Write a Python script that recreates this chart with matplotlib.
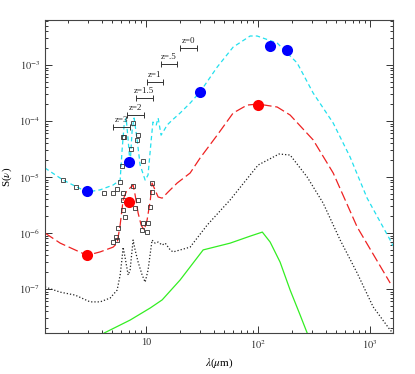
import math

import matplotlib
matplotlib.use('Agg')
import matplotlib.pyplot as plt
from matplotlib.ticker import FixedLocator, LogLocator, FuncFormatter, NullFormatter

plt.rcParams['font.family'] = ['Liberation Serif', 'DejaVu Serif']
plt.rcParams['mathtext.fontset'] = 'stix'

# Template curves: wavelength (micron) and flux S(nu)
cyan_lam = [1.25, 1.82, 2.32, 2.97, 3.88, 5.07, 5.86, 6.10, 6.36, 6.63, 6.91, 7.19, 7.50, 7.81,
            8.31, 8.84, 9.80, 10.4, 11.1, 11.5, 12.3, 12.8, 13.6, 14.5, 15.4, 17.1, 20.1, 24.7,
            30.3, 43.1, 59.8, 84.8, 98, 148, 223, 310, 468, 662, 940, 1510, 1600]
cyan_s = [1.45e-5, 8.8e-6, 6.9e-6, 5.4e-6, 5.9e-6, 7.2e-6, 8.8e-6, 3.03e-5, 8.5e-5, 1.13e-4,
          4.6e-5, 1.64e-5, 6.9e-5, 1.13e-4, 4.6e-5, 1.64e-5, 8.8e-6, 1.09e-5, 4.6e-5, 9.6e-5,
          8.5e-5, 1.13e-4, 5.6e-5, 6.9e-5, 8.5e-5, 1.04e-4, 1.39e-4, 2.09e-4, 3.30e-4, 9.2e-4,
          2.09e-3, 3.30e-3, 3.30e-3, 2.47e-3, 1.09e-3, 3.16e-4, 9.2e-5, 2.28e-5, 4.2e-6,
          7.5e-7, 5.9e-7]

red_lam = [1.25, 1.71, 2.32, 2.97, 3.88, 5.07, 5.51, 5.86, 6.23, 6.63, 7.19, 7.65, 7.97, 8.48,
           9.02, 9.60, 10.2, 10.9, 11.3, 12.0, 12.8, 13.9, 15.7, 18.9, 24.7, 30.3, 43.1, 59.8,
           79.8, 100, 148, 193, 310, 468, 766, 1510]
red_s = [1.0e-6, 6.6e-7, 5.0e-7, 4.0e-7, 4.6e-7, 5.6e-7, 6.6e-7, 1.39e-6, 3.9e-6, 5.4e-6,
         6.4e-6, 7.2e-6, 4.8e-6, 2.28e-6, 1.39e-6, 1.13e-6, 1.71e-6, 3.9e-6, 7.8e-6, 5.9e-6,
         4.4e-6, 4.2e-6, 5.4e-6, 7.8e-6, 1.18e-5, 2.18e-5, 5.6e-5, 1.39e-4, 1.93e-4, 2.01e-4,
         1.78e-4, 1.28e-4, 4.6e-5, 1.18e-5, 1.28e-6, 1.28e-7]

black_lam = [1.25, 1.71, 2.32, 3.16, 3.88, 4.77, 5.51, 5.86, 6.10, 6.23, 6.50, 6.91, 7.19, 7.65,
             7.97, 8.48, 9.21, 9.80, 10.4, 10.9, 11.3, 12.0, 12.8, 13.9, 14.8, 16.4, 17.4, 24.7,
             35.1, 56.2, 100, 154, 193, 274, 380, 540, 766, 1064, 1510, 1600]
black_s = [1.09e-7, 8.8e-8, 7.8e-8, 5.9e-8, 5.9e-8, 6.9e-8, 9.6e-8, 1.78e-7, 3.58e-7, 5.6e-7,
           3.58e-7, 1.78e-7, 2.18e-7, 7.5e-7, 5.0e-7, 3.03e-7, 1.78e-7, 1.33e-7, 2.18e-7, 4.4e-7,
           7.5e-7, 6.6e-7, 6.9e-7, 6.1e-7, 6.6e-7, 5.0e-7, 4.6e-7, 5.6e-7, 1.39e-6, 3.9e-6,
           1.64e-5, 2.58e-5, 2.47e-5, 1.0e-5, 3.44e-6, 7.5e-7, 1.93e-7, 4.8e-8, 1.85e-8, 1.64e-8]

green_lam = [4.22, 7.19, 10.9, 13.9, 20.1, 32.3, 56.2, 84.8, 109, 128, 157, 193, 237, 274]
green_s = [1.64e-8, 2.79e-8, 4.6e-8, 6.4e-8, 1.45e-7, 5.0e-7, 6.6e-7, 8.8e-7, 1.04e-6, 6.9e-7,
           3.03e-7, 9.6e-8, 3.44e-8, 1.64e-8]

# Photometry
blue_lam = [2.97, 7.05, 30.3, 128, 182]
blue_s = [5.6e-6, 1.86e-5, 3.3e-4, 2.18e-3, 1.85e-3]
red_pt_lam = [2.97, 7.05, 100]
red_pt_s = [4.0e-7, 3.55e-6, 1.93e-4]

# Open squares (spectra)
sq_lam = [1.82, 2.37, 4.22, 5.07, 5.51, 5.86, 6.10, 6.36, 6.23, 7.34, 7.65, 8.48, 8.31, 9.40,
          7.65, 8.48, 11.3, 11.3, 10.9, 9.40, 10.4, 9.21, 10.2, 6.23, 6.50, 5.62, 5.39, 5.07,
          5.51, 6.23, 7.97, 6.23]
sq_s = [8.8e-6, 6.6e-6, 5.2e-6, 5.2e-6, 6.1e-6, 8.1e-6, 1.57e-5, 5.2e-5, 5.2e-6, 3.16e-5,
        9.2e-5, 5.6e-5, 4.6e-5, 1.93e-5, 6.9e-6, 3.9e-6, 7.8e-6, 5.4e-6, 2.91e-6, 1.51e-6,
        1.51e-6, 1.13e-6, 1.04e-6, 2.58e-6, 1.93e-6, 1.23e-6, 8.5e-7, 6.9e-7, 7.5e-7, 3.9e-6,
        2.79e-6, 5.2e-5]

# 24 micron band at various redshifts
z_labels = ['z=0', 'z=.5', 'z=1', 'z=1.5', 'z=2', 'z=3']
z_vals = [0, 0.5, 1, 1.5, 2, 3]
z_bar_s = [2.01e-3, 1.04e-3, 4.97e-4, 2.58e-4, 1.28e-4, 7.8e-5]
band_center = 24.0
band_half = 1.19


def pow_label(v, pos):
    n = round(math.log10(v))
    if n == 1:
        return '10'
    return r'$10^{%d}$' % n


fig = plt.figure(figsize=(4.15, 3.74), dpi=100)
ax = fig.add_axes([0.1084, 0.1096, 0.8386, 0.8369])
ax.set_xscale('log')
ax.set_yscale('log')

ax.plot(green_lam, green_s, color='#33ee22', lw=0.9)
ax.plot(black_lam, black_s, color='#222222', lw=0.9, linestyle=(0, (1, 1.6)))
ax.plot(red_lam, red_s, color='#ee2222', lw=0.9, linestyle=(0, (8, 3)))
ax.plot(cyan_lam, cyan_s, color='#22e0ee', lw=0.9, linestyle=(0, (3.5, 2.5)))

ax.plot(sq_lam, sq_s, 's', ms=2.8, mfc='none', mec='#333333', mew=0.6)
ax.plot(blue_lam, blue_s, 'o', ms=8, color='#0000ff', mec='none')
ax.plot(red_pt_lam, red_pt_s, 'o', ms=8, color='#ff0000', mec='none')

for lab, z, s in zip(z_labels, z_vals, z_bar_s):
    c = band_center / (1 + z)
    lo, hi = c / band_half, c * band_half
    ax.errorbar([c], [s], xerr=[[c - lo], [hi - c]], fmt='none', ecolor='#333333',
                elinewidth=0.7, capsize=2.5, capthick=0.7)
    ax.annotate(lab, (c, s), xytext=(0, 2.5), textcoords='offset points',
                ha='center', va='bottom', fontsize=6.5, color='#222222')

ax.set_xlim(1.25, 1600)
ax.set_ylim(1.64e-8, 6.37e-3)

ax.xaxis.set_major_locator(FixedLocator([10, 100, 1000]))
ax.xaxis.set_minor_locator(LogLocator(base=10, subs=range(2, 10)))
ax.xaxis.set_major_formatter(FuncFormatter(pow_label))
ax.xaxis.set_minor_formatter(NullFormatter())
ax.yaxis.set_major_locator(FixedLocator([1e-7, 1e-6, 1e-5, 1e-4, 1e-3]))
ax.yaxis.set_minor_locator(LogLocator(base=10, subs=range(2, 10)))
ax.yaxis.set_major_formatter(FuncFormatter(pow_label))
ax.yaxis.set_minor_formatter(NullFormatter())

ax.tick_params(which='both', direction='in', top=True, right=True, colors='#333333',
               labelsize=7.5, width=0.7)
ax.tick_params(which='major', length=5)
ax.tick_params(which='minor', length=2.5)
for sp in ax.spines.values():
    sp.set_color('#444444')
    sp.set_linewidth(0.8)

ax.set_xlabel(r'$\lambda$($\mu$m)', fontsize=8)
ax.set_ylabel(r'S($\nu$)', fontsize=8)

fig.savefig('out.png', dpi=100)
